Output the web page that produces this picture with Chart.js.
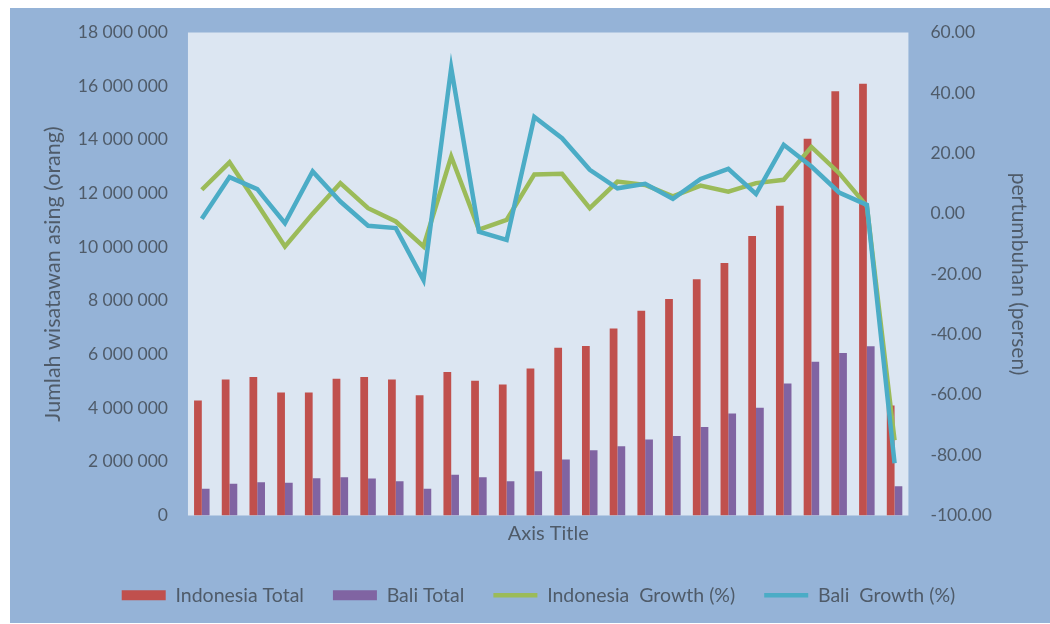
<!DOCTYPE html>
<html>
<head>
<meta charset="utf-8">
<script src="https://cdn.jsdelivr.net/npm/chart.js@4"></script>
<style>
  html, body { margin: 0; padding: 0; background: #fff; }
  #wrap {
    position: absolute; left: 10px; top: 8px;
    width: 1040px; height: 615px;
    background: #95b3d7;
  }
</style>
</head>
<body>
<div id="wrap"><canvas id="chart"></canvas></div>
<script>
// Data kunjungan wisatawan mancanegara
const years = ['1995','1996','1997','1998','1999','2000','2001','2002','2003','2004','2005','2006','2007',
               '2008','2009','2010','2011','2012','2013','2014','2015','2016','2017','2018','2019','2020'];

const indonesiaTotal = [4290000, 5070000, 5160000, 4580000, 4580000, 5100000, 5160000, 5070000, 4480000,
                        5350000, 5020000, 4880000, 5480000, 6250000, 6320000, 6970000, 7630000, 8070000,
                        8800000, 9410000, 10420000, 11540000, 14040000, 15810000, 16090000, 4100000];

const baliTotal = [1000000, 1180000, 1240000, 1220000, 1390000, 1430000, 1380000, 1280000, 1000000,
                   1520000, 1430000, 1280000, 1650000, 2090000, 2430000, 2580000, 2830000, 2960000,
                   3300000, 3800000, 4020000, 4920000, 5730000, 6060000, 6310000, 1090000];

const indonesiaGrowth = [7.9, 17.0, 3.2, -10.9, 0.0, 10.1, 1.8, -2.6, -10.9, 18.9, -5.3, -2.1, 13.0,
                         13.2, 1.8, 10.6, 9.5, 5.7, 9.3, 7.3, 10.1, 11.2, 22.1, 13.4, 2.5, -75.1];

const baliGrowth = [-1.7, 12.1, 8.1, -3.2, 14.0, 4.0, -4.0, -4.8, -22.0, 48.3, -6.0, -8.7, 32.0,
                    25.0, 14.5, 8.4, 9.9, 4.9, 11.5, 14.8, 6.5, 22.8, 15.6, 7.0, 2.9, -82.7];

const leftTicks = { min: 0, max: 18000000, step: 2000000 };
const rightTicks = { min: -100, max: 60, step: 20 };

const textColor = '#4f5b69';
const fontFamily = 'Lato, "Open Sans", sans-serif';

// latar area plot
const plotBg = {
  id: 'plotBg',
  beforeDraw(chart) {
    const { ctx, chartArea: a } = chart;
    ctx.save();
    ctx.fillStyle = '#dce6f2';
    ctx.fillRect(a.left, a.top, a.right - a.left, a.bottom - a.top);
    ctx.restore();
  }
};

function ribuan(v) {
  return String(v).replace(/\B(?=(\d{3})+(?!\d))/g, ' ');
}

Chart.defaults.font.family = fontFamily;
Chart.defaults.color = textColor;

new Chart(document.getElementById('chart'), {
  type: 'bar',
  data: {
    labels: years,
    datasets: [
      { label: 'Indonesia Total', data: indonesiaTotal, backgroundColor: '#c0504d', borderWidth: 0,
        yAxisID: 'y', pointStyle: 'rect', order: 2 },
      { label: 'Bali Total', data: baliTotal, backgroundColor: '#8064a2', borderWidth: 0,
        yAxisID: 'y', pointStyle: 'rect', order: 3 },
      { type: 'line', label: 'Indonesia  Growth (%)', data: indonesiaGrowth, borderColor: '#9bbb59',
        backgroundColor: '#9bbb59', borderWidth: 4.5, pointRadius: 0, pointStyle: 'line',
        tension: 0, yAxisID: 'y1', order: 1 },
      { type: 'line', label: 'Bali  Growth (%)', data: baliGrowth, borderColor: '#4bacc6',
        backgroundColor: '#4bacc6', borderWidth: 4.5, pointRadius: 0, pointStyle: 'line',
        tension: 0, yAxisID: 'y1', order: 0 }
    ]
  },
  options: {
    responsive: true,
    maintainAspectRatio: false,
    animation: false,
    layout: { padding: { top: 12, left: 30, right: 13, bottom: 8 } },
    datasets: { bar: { categoryPercentage: 0.56, barPercentage: 1 } },
    plugins: {
      legend: {
        position: 'bottom',
        labels: {
          usePointStyle: true,
          pointStyleWidth: 44,
          boxHeight: 10,
          padding: 29,
          font: { size: 19.5 },
          color: textColor,
          sort: (a, b) => a.datasetIndex - b.datasetIndex
        }
      },
      tooltip: { enabled: false }
    },
    scales: {
      x: {
        grid: { display: false },
        border: { display: false },
        ticks: { display: false },
        title: { display: true, text: 'Axis Title', font: { size: 20 }, color: textColor,
                 padding: { top: -2, bottom: 11 } }
      },
      y: {
        position: 'left',
        min: leftTicks.min, max: leftTicks.max,
        grid: { display: false },
        border: { display: false },
        ticks: { stepSize: leftTicks.step, padding: 12, font: { size: 17.5 }, color: textColor,
                 callback: v => ribuan(v) },
        title: { display: true, text: 'Jumlah wisatawan asing (orang)', font: { size: 21.5 },
                 color: textColor, padding: { top: 0, bottom: 0 } }
      },
      y1: {
        position: 'right',
        min: rightTicks.min, max: rightTicks.max,
        grid: { display: false },
        border: { display: false },
        ticks: { stepSize: rightTicks.step, padding: 14, font: { size: 17.5 }, color: textColor,
                 callback: v => v.toFixed(2) },
        title: { display: true, text: 'pertumbuhan (persen)', font: { size: 21 },
                 color: textColor, padding: { top: 6, bottom: 0 } }
      }
    }
  },
  plugins: [plotBg]
});
</script>
</body>
</html>
